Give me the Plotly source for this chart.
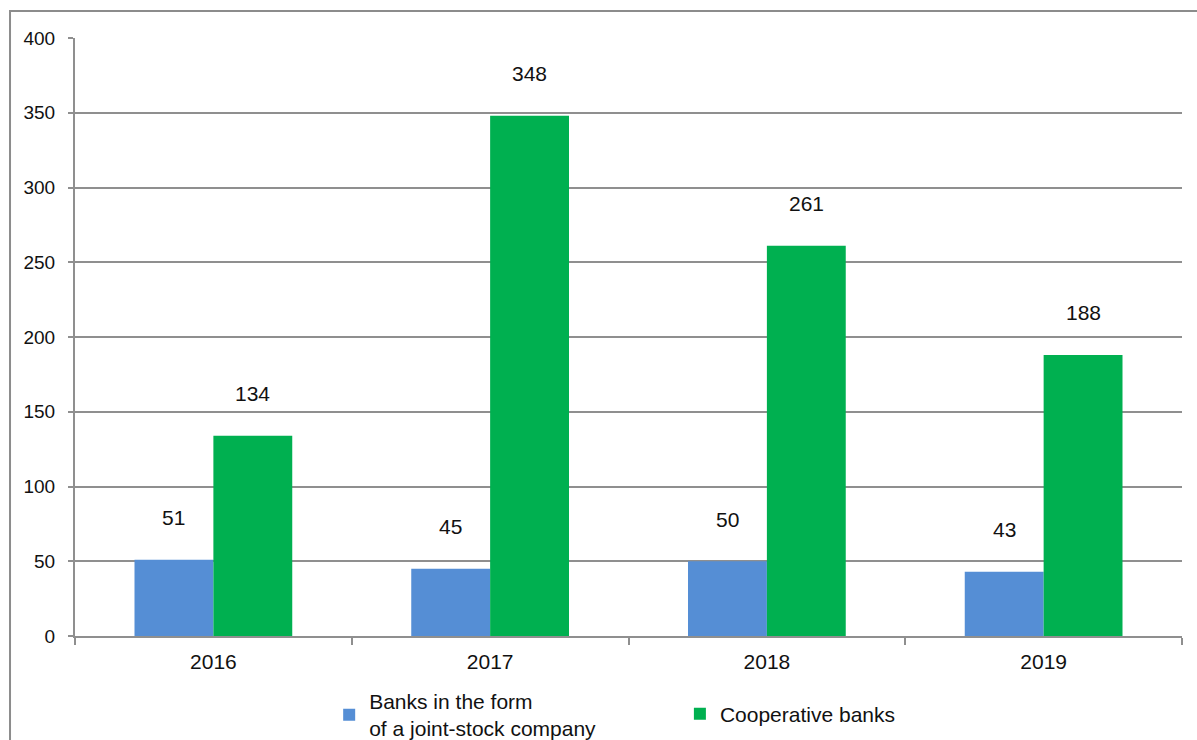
import plotly.graph_objects as go

years = ["2016", "2017", "2018", "2019"]
joint_stock = [51, 45, 50, 43]
cooperative = [134, 348, 261, 188]

series_names = ["Banks in the form<br>of a joint-stock company", "Cooperative banks"]
colors = ["#558ed5", "#00b050"]
y_ticks = [0, 50, 100, 150, 200, 250, 300, 350, 400]

FONT = "Liberation Sans, Arial, sans-serif"
GRID = "#8f8f8f"

fig = go.Figure()
fig.add_trace(go.Bar(x=years, y=joint_stock, name=series_names[0],
                     marker=dict(color=colors[0], line=dict(width=0)),
                     legend="legend", showlegend=True))
fig.add_trace(go.Bar(x=years, y=cooperative, name=series_names[1],
                     marker=dict(color=colors[1], line=dict(width=0)),
                     legend="legend2", showlegend=True))

# value labels floating above each bar (x given as category index)
half_bar = 39.5
annotations = []
for i, (a, b) in enumerate(zip(joint_stock, cooperative)):
    for val, shift in ((a, -half_bar), (b, half_bar)):
        annotations.append(dict(x=i, y=val, xref="x", yref="y", text=str(val),
                                showarrow=False, xshift=shift, yshift=42,
                                yanchor="middle", xanchor="center",
                                font=dict(family=FONT, size=21, color="#111111")))

legend_style = dict(orientation="v", xref="container", yref="container",
                    xanchor="left", yanchor="middle", visible=True,
                    font=dict(family=FONT, size=21, color="#111111"),
                    bgcolor="rgba(0,0,0,0)", itemclick=False, borderwidth=0)

fig.update_layout(
    width=1197, height=740,
    margin=dict(l=75, r=15, t=38, b=104, autoexpand=False),
    paper_bgcolor="white", plot_bgcolor="white",
    showlegend=True,
    barmode="group", bargap=0.43, bargroupgap=0,
    font=dict(family=FONT, color="#111111"),
    annotations=annotations,
    legend=dict(legend_style, x=0.275, y=0.034),
    legend2=dict(legend_style, x=0.568, y=0.035),
    shapes=[dict(type="rect", xref="paper", yref="paper",
                 x0=-0.0587, x1=1.03, y0=-0.2, y1=1.045,
                 line=dict(color="#8c8c8c", width=2), layer="below")],
)

fig.update_xaxes(
    type="category", range=[-0.5, 3.5], showline=True, linecolor=GRID, linewidth=2,
    ticks="outside", tickson="boundaries", ticklen=7, tickwidth=2, tickcolor=GRID,
    tickfont=dict(family=FONT, size=21, color="#111111"), ticklabelstandoff=6,
    tickangle=0, showgrid=False, zeroline=False,
)
fig.update_yaxes(
    range=[0, 400], tickvals=y_ticks, showline=True, linecolor=GRID, linewidth=2,
    ticks="outside", ticklen=5, tickwidth=2, tickcolor=GRID,
    tickfont=dict(family=FONT, size=19, color="#111111"), ticklabelstandoff=9,
    showgrid=True, gridcolor=GRID, gridwidth=2, zeroline=False,
)

fig.write_html("out.html")
